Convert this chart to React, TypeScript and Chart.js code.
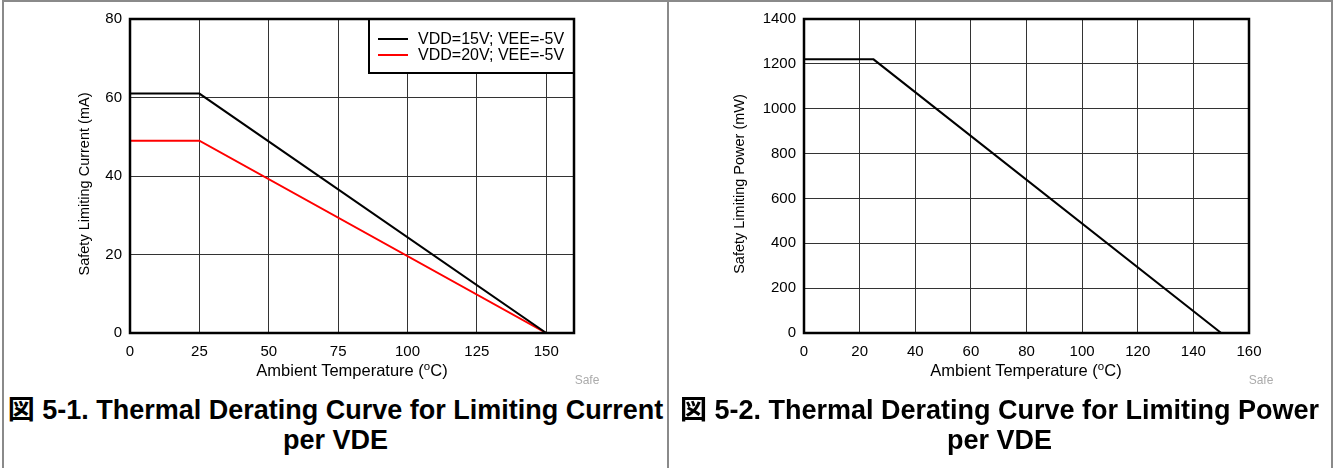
import React, { useEffect, useRef } from 'react';
import { Chart, registerables } from 'chart.js';

Chart.register(...registerables);

// ---------- data ----------
const tempPoints = [0, 25, 150];
const current15V = [61, 61, 0];
const current20V = [49, 49, 0];
const powerMW = [1220, 1220, 0];

const seriesLabels = ['VDD=15V; VEE=-5V', 'VDD=20V; VEE=-5V'];
const powerLabel = 'Safety Limiting Power';

const xTicksCurrent = [0, 25, 50, 75, 100, 125, 150];
const yTicksCurrent = [0, 20, 40, 60, 80];
const xTicksPower = [0, 20, 40, 60, 80, 100, 120, 140, 160];
const yTicksPower = [0, 200, 400, 600, 800, 1000, 1200, 1400];

const yTitleCurrent = 'Safety Limiting Current (mA)';
const yTitlePower = 'Safety Limiting Power (mW)';
const xTitleMain = 'Ambient Temperature (';
const xTitleSup = 'o';
const xTitleEnd = 'C)';
const watermark = 'Safe';
const captionCurrent = ['図 5-1. Thermal Derating Curve for Limiting Current', 'per VDE'];
const captionPower = ['図 5-2. Thermal Derating Curve for Limiting Power', 'per VDE'];

const FONT = '"Liberation Sans", Arial, Helvetica, sans-serif';
const CAPTION_FONT = '"Liberation Sans", Arial, "Noto Sans CJK JP", sans-serif';

// ---------- plugins ----------
const decorPlugin = {
  id: 'decor',
  afterDraw(chart: any, _args: any, opts: any) {
    const { ctx, chartArea: a } = chart;
    ctx.save();
    if (opts && opts.legend) {
      const w = 205;
      const h = 54;
      const x = a.right - w;
      const y = a.top;
      ctx.fillStyle = '#fff';
      ctx.fillRect(x, y, w, h);
      ctx.lineWidth = 2;
      ctx.strokeStyle = '#000';
      ctx.strokeRect(x, y, w, h);
      ctx.font = `16px ${FONT}`;
      ctx.textBaseline = 'middle';
      ctx.textAlign = 'left';
      chart.data.datasets.forEach((ds: any, i: number) => {
        const cy = y + 20 + i * 16;
        ctx.strokeStyle = ds.borderColor;
        ctx.lineWidth = 2;
        ctx.beginPath();
        ctx.moveTo(x + 9, cy);
        ctx.lineTo(x + 39, cy);
        ctx.stroke();
        ctx.fillStyle = '#000';
        ctx.fillText(ds.label, x + 49, cy + 1);
      });
    }
    if (opts && opts.yTitle) {
      ctx.save();
      ctx.translate(opts.yTitleX, (a.top + a.bottom) / 2 + opts.yTitleDy);
      ctx.rotate(-Math.PI / 2);
      ctx.font = `14.5px ${FONT}`;
      ctx.fillStyle = '#000';
      ctx.textAlign = 'center';
      ctx.textBaseline = 'middle';
      ctx.fillText(opts.yTitle, 0, 0);
      ctx.restore();
    }
    ctx.lineWidth = 2.5;
    ctx.strokeStyle = '#000';
    ctx.strokeRect(a.left, a.top, a.right - a.left, a.bottom - a.top);
    ctx.restore();
  },
};

type ChartProps = {
  left: number;
  width: number;
  height: number;
  datasets: any[];
  xTicks: number[];
  yTicks: number[];
  yTitle: string;
  yAxisWidth: number;
  rightPad: number;
  yTitleX: number;
  legend: boolean;
};

function DeratingChart(p: ChartProps) {
  const ref = useRef<HTMLCanvasElement>(null);
  useEffect(() => {
    if (!ref.current) return;
    const tickFont = { family: FONT, size: 15 };
    const chart = new Chart(ref.current, {
      type: 'line',
      data: { datasets: p.datasets },
      options: {
        responsive: false,
        animation: false,
        devicePixelRatio: 1,
        layout: { padding: { left: 0, top: 19, right: p.rightPad, bottom: 0 } },
        elements: { point: { radius: 0 }, line: { tension: 0 } },
        plugins: {
          legend: { display: false },
          tooltip: { enabled: false },
          decor: { legend: p.legend, yTitle: p.yTitle, yTitleX: p.yTitleX, yTitleDy: 8 },
        } as any,
        scales: {
          x: {
            type: 'linear',
            min: p.xTicks[0],
            max: 160,
            afterBuildTicks: (s: any) => {
              s.ticks = p.xTicks.map((v) => ({ value: v }));
            },
            afterFit: (s: any) => {
              s.height = 62;
            },
            grid: { color: '#333333', lineWidth: 1, drawTicks: false },
            border: { display: false },
            ticks: {
              padding: 10,
              color: '#000',
              font: tickFont,
              autoSkip: false,
              maxRotation: 0,
              callback: (v: any) => String(v),
            },
          },
          y: {
            type: 'linear',
            min: p.yTicks[0],
            max: p.yTicks[p.yTicks.length - 1],
            afterBuildTicks: (s: any) => {
              s.ticks = p.yTicks.map((v) => ({ value: v }));
            },
            afterFit: (s: any) => {
              s.width = p.yAxisWidth;
            },
            grid: { color: '#333333', lineWidth: 1, drawTicks: false },
            border: { display: false },
            ticks: {
              padding: 8,
              color: '#000',
              font: tickFont,
              autoSkip: false,
              callback: (v: any) => String(v),
            },
            title: { display: false, text: p.yTitle },
          },
        },
      } as any,
      plugins: [decorPlugin],
    });
    return () => chart.destroy();
  }, []);
  return (
    <canvas
      ref={ref}
      width={p.width}
      height={p.height}
      style={{ position: 'absolute', left: p.left, top: 0, width: p.width, height: p.height }}
    />
  );
}

function XTitle({ center }: { center: number }) {
  return (
    <div
      style={{
        position: 'absolute',
        left: center - 150,
        width: 300,
        top: 361,
        textAlign: 'center',
        fontFamily: FONT,
        fontSize: 16.5,
        lineHeight: '18px',
        color: '#000',
        whiteSpace: 'nowrap',
      }}
    >
      {xTitleMain}
      <span style={{ fontSize: 11.5, position: 'relative', top: -6 }}>{xTitleSup}</span>
      {xTitleEnd}
    </div>
  );
}

function Watermark({ center }: { center: number }) {
  return (
    <div
      style={{
        position: 'absolute',
        left: center - 30,
        width: 60,
        top: 373,
        textAlign: 'center',
        fontFamily: FONT,
        fontSize: 12,
        lineHeight: '14px',
        color: '#ababab',
      }}
    >
      {watermark}
    </div>
  );
}

function Caption({ left, width, lines }: { left: number; width: number; lines: string[] }) {
  return (
    <div
      style={{
        position: 'absolute',
        left,
        width,
        top: 395,
        textAlign: 'center',
        fontFamily: CAPTION_FONT,
        fontWeight: 'bold',
        fontSize: 27,
        lineHeight: '30px',
        color: '#000',
        whiteSpace: 'nowrap',
      }}
    >
      {lines.map((l, i) => (
        <div key={i}>{l}</div>
      ))}
    </div>
  );
}

export default function App() {
  const currentDatasets = [
    {
      label: seriesLabels[0],
      data: tempPoints.map((t, i) => ({ x: t, y: current15V[i] })),
      borderColor: '#000000',
      borderWidth: 2,
      fill: false,
    },
    {
      label: seriesLabels[1],
      data: tempPoints.map((t, i) => ({ x: t, y: current20V[i] })),
      borderColor: '#ff0000',
      borderWidth: 2,
      fill: false,
    },
  ];
  const powerDatasets = [
    {
      label: powerLabel,
      data: tempPoints.map((t, i) => ({ x: t, y: powerMW[i] })),
      borderColor: '#000000',
      borderWidth: 2,
      fill: false,
    },
  ];

  return (
    <div
      style={{
        position: 'absolute',
        left: 0,
        top: 0,
        width: 1333,
        height: 468,
        background: '#fff',
        overflow: 'hidden',
      }}
    >
      <DeratingChart
        left={0}
        width={668}
        height={395}
        datasets={currentDatasets}
        xTicks={xTicksCurrent}
        yTicks={yTicksCurrent}
        yTitle={yTitleCurrent}
        yAxisWidth={130}
        rightPad={94}
        yTitleX={85}
        legend={true}
      />
      <DeratingChart
        left={668}
        width={662}
        height={395}
        datasets={powerDatasets}
        xTicks={xTicksPower}
        yTicks={yTicksPower}
        yTitle={yTitlePower}
        yAxisWidth={136}
        rightPad={81}
        yTitleX={72}
        legend={false}
      />
      <XTitle center={352} />
      <XTitle center={1026} />
      <Watermark center={587} />
      <Watermark center={1261} />
      <Caption left={4} width={663} lines={captionCurrent} />
      <Caption left={669} width={661} lines={captionPower} />
      {/* panel frames */}
      <div
        style={{
          position: 'absolute',
          left: 2,
          top: 0,
          width: 1327,
          height: 480,
          border: '2px solid #8a8a8a',
          boxSizing: 'content-box',
        }}
      />
      <div
        style={{ position: 'absolute', left: 667, top: 0, width: 2, height: 468, background: '#8a8a8a' }}
      />
    </div>
  );
}
